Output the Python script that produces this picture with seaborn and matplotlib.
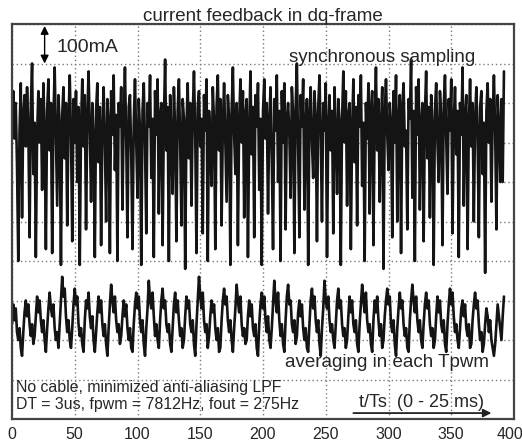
import numpy as np
import pandas as pd
import matplotlib
matplotlib.use("Agg")
import matplotlib.pyplot as plt
import matplotlib.transforms as mtransforms
import seaborn as sns

# synchronous sampling (upper trace), in grid divisions
sync_vals = [
    7.6, 8.3, 7.1, 8.0, 6.4, 4.0, 7.3, 8.5, 5.1, 7.7,
    8.2, 6.9, 8.4, 7.4, 4.6, 7.9, 9.0, 6.2, 7.5, 4.1,
    7.2, 8.3, 7.0, 8.1, 5.8, 8.5, 7.3, 4.3, 7.8, 8.6,
    6.8, 8.0, 4.2, 7.6, 8.9, 7.1, 5.4, 8.2, 7.4, 3.9,
    7.7, 8.4, 6.6, 8.0, 4.9, 7.5, 8.7, 7.2, 4.5, 8.1,
    7.0, 8.3, 6.0, 7.9, 3.9, 7.4, 8.6, 6.9, 8.2, 4.8,
    7.6, 8.8, 7.3, 5.5, 8.0, 7.1, 4.1, 7.8, 8.5, 6.5,
    7.9, 4.4, 7.3, 8.4, 7.0, 5.0, 8.1, 7.5, 4.2, 8.3,
    7.2, 8.7, 6.3, 7.7, 4.0, 8.0, 7.4, 8.4, 5.3, 7.6,
    8.9, 7.1, 4.6, 7.9, 8.2, 6.7, 4.3, 7.5, 8.6, 7.0,
    5.6, 8.1, 7.3, 3.9, 7.8, 8.5, 6.9, 4.7, 8.0, 7.4,
    8.7, 6.1, 7.6, 4.1, 8.3, 7.2, 8.6, 5.2, 7.7, 8.0,
    4.4, 7.5, 9.1, 6.8, 7.9, 4.0, 8.2, 7.1, 5.7, 8.4,
    7.3, 4.5, 7.8, 8.6, 7.0, 4.9, 8.1, 7.6, 3.8, 7.4,
    8.5, 6.6, 8.0, 5.4, 7.7, 8.8, 7.2, 4.2, 7.9, 8.3,
    6.9, 7.6, 4.7, 8.2, 7.3, 8.6, 4.0, 7.8, 7.1, 5.9,
    8.4, 7.5, 4.3, 7.9, 8.7, 6.8, 8.1, 4.9, 7.4, 8.5,
    7.0, 5.5, 8.2, 7.6, 3.9, 7.8, 8.9, 7.2, 6.2, 8.0,
    4.4, 7.5, 8.6, 7.0, 8.3, 5.1, 7.7, 8.1, 4.1, 7.3,
    8.8, 6.7, 7.9, 4.6, 8.2, 7.4, 8.5, 5.8, 7.6, 3.9,
    7.8, 8.6, 7.1, 8.0, 5.2, 7.5, 8.4, 6.6, 4.3, 8.1,
    7.3, 8.7, 6.0, 7.8, 4.0, 8.3, 7.0, 8.5, 4.8, 7.6,
    8.0, 7.2, 5.6, 8.4, 7.7, 4.2, 7.9, 9.0, 6.9, 4.6,
    8.2, 7.4, 8.6, 5.3, 7.5, 8.1, 3.9, 7.7, 8.4, 7.0,
    6.1, 8.3, 7.6, 4.5, 7.9, 8.7, 7.1, 5.0, 8.0, 7.3,
    8.5, 4.1, 7.4, 8.2, 6.8, 7.8, 4.7, 8.4, 7.2, 5.7,
    8.1, 7.5, 3.9, 7.6, 8.8, 7.0, 8.3, 5.4, 7.7, 8.0,
    4.3, 7.3, 8.6, 6.5, 7.9, 4.9, 8.2, 7.4, 8.7, 5.9,
    7.5, 4.0, 8.0, 7.1, 8.5, 5.2, 7.8, 8.3, 4.4, 7.6,
    8.9, 6.8, 8.1, 5.5, 7.4, 8.4, 3.8, 7.7, 8.6, 7.2,
    6.3, 8.0, 7.5, 4.6, 8.3, 7.0, 8.7, 5.0, 7.6, 8.2,
    4.2, 7.9, 8.5, 6.9, 7.3, 4.8, 8.1, 7.6, 9.1, 5.6,
    7.8, 4.0, 8.4, 7.2, 8.6, 5.3, 7.5, 8.0, 4.5, 7.7,
    8.8, 6.6, 7.9, 5.1, 8.2, 7.4, 3.9, 7.8, 8.5, 7.0,
    6.0, 8.3, 7.6, 4.4, 7.9, 8.7, 7.1, 5.7, 8.1, 7.3,
    8.6, 4.7, 7.5, 8.4, 6.7, 7.8, 4.1, 8.0, 7.2, 8.9,
    5.4, 7.7, 8.2, 4.3, 7.4, 8.6, 6.9, 8.0, 5.0, 7.6,
    8.4, 7.1, 4.6, 7.9, 8.3, 6.2, 7.5, 3.7, 7.8, 8.5,
    7.0, 8.1, 5.5, 7.6, 8.7, 7.3, 4.8, 8.2, 7.4, 6.0,
    8.1, 6.0, 8.8,
]

# averaging in each Tpwm (lower trace), in grid divisions
avg_vals = [
    2.4, 2.9, 2.5, 2.8, 2.2, 2.0, 2.3, 1.8, 1.6, 2.2,
    2.7, 3.0, 2.6, 2.9, 2.4, 2.1, 2.4, 1.9, 2.1, 2.6,
    3.1, 2.7, 3.0, 2.5, 2.2, 2.5, 2.0, 1.7, 2.3, 2.8,
    3.2, 2.8, 2.6, 2.9, 2.3, 2.0, 2.2, 1.8, 2.4, 3.0,
    3.6, 3.1, 3.3, 2.6, 2.2, 2.5, 2.0, 1.8, 2.3, 2.9,
    3.3, 2.9, 3.1, 2.4, 2.1, 2.3, 1.9, 1.7, 2.5, 3.0,
    2.8, 3.2, 2.6, 2.3, 2.6, 2.0, 1.7, 2.2, 2.7, 3.1,
    2.7, 3.0, 2.4, 2.1, 2.4, 1.9, 1.6, 2.3, 2.9, 3.4,
    3.0, 2.7, 3.1, 2.5, 2.2, 2.4, 1.9, 2.1, 2.6, 3.0,
    2.6, 2.9, 2.3, 2.0, 2.3, 1.8, 1.7, 2.4, 2.9, 3.2,
    2.8, 3.1, 2.5, 2.2, 2.5, 1.9, 1.6, 2.3, 2.8, 3.5,
    3.0, 2.8, 3.2, 2.6, 2.1, 2.4, 2.0, 1.8, 2.5, 3.0,
    3.3, 2.8, 3.0, 2.4, 2.2, 2.4, 1.9, 1.7, 2.3, 2.9,
    3.2, 2.7, 3.0, 2.5, 2.1, 2.3, 1.8, 2.0, 2.6, 3.1,
    2.8, 3.0, 2.4, 2.2, 2.5, 1.9, 1.6, 2.4, 3.0, 3.6,
    3.1, 2.8, 3.2, 2.5, 2.2, 2.4, 1.8, 2.1, 2.6, 3.0,
    2.7, 2.9, 2.3, 2.0, 2.3, 1.7, 1.8, 2.5, 3.0, 3.3,
    2.9, 3.1, 2.5, 2.2, 2.5, 2.0, 1.7, 2.3, 2.8, 3.4,
    3.0, 2.7, 3.1, 2.4, 2.1, 2.3, 1.9, 2.0, 2.6, 3.0,
    2.6, 2.9, 2.3, 2.1, 2.4, 1.8, 1.6, 2.4, 2.9, 3.2,
    2.8, 3.1, 2.5, 2.2, 2.6, 2.0, 1.8, 2.3, 2.9, 3.5,
    3.0, 2.7, 3.2, 2.5, 2.1, 2.4, 1.9, 1.7, 2.5, 3.1,
    3.4, 2.9, 3.0, 2.4, 2.2, 2.5, 1.9, 2.1, 2.7, 3.0,
    2.6, 2.9, 2.3, 2.0, 2.3, 1.8, 1.7, 2.4, 3.0, 3.3,
    2.8, 3.1, 2.5, 2.2, 2.5, 1.9, 1.6, 2.3, 2.8, 3.5,
    3.0, 2.8, 3.1, 2.5, 2.2, 2.4, 2.0, 1.8, 2.4, 3.0,
    3.3, 2.8, 3.0, 2.4, 2.1, 2.3, 1.8, 2.0, 2.6, 3.1,
    2.7, 3.0, 2.4, 2.2, 2.5, 1.9, 1.7, 2.4, 2.9, 3.4,
    3.0, 2.7, 3.2, 2.5, 2.2, 2.4, 1.9, 1.7, 2.5, 3.0,
    2.7, 3.1, 2.5, 2.1, 2.4, 1.8, 2.0, 2.6, 3.0, 3.3,
    2.9, 3.1, 2.4, 2.2, 2.5, 1.9, 1.6, 2.3, 2.8, 3.2,
    2.8, 3.0, 2.4, 2.1, 2.3, 1.8, 1.7, 2.5, 3.0, 3.4,
    3.0, 2.7, 3.1, 2.5, 2.2, 2.5, 2.0, 1.8, 2.4, 2.9,
    3.2, 2.8, 3.0, 2.4, 2.1, 2.3, 1.8, 2.0, 2.6, 3.1,
    2.7, 3.0, 2.4, 2.2, 2.5, 1.9, 1.7, 2.4, 2.9, 3.3,
    2.9, 3.2, 2.6, 2.2, 2.4, 2.0, 1.8, 2.3, 2.8, 3.0,
    2.6, 2.9, 2.3, 2.1, 2.4, 1.8, 1.9, 2.5, 2.9, 3.2,
    2.8, 3.0, 2.4, 2.0, 2.2, 1.7, 1.9, 2.4, 2.8, 2.6,
    2.2, 2.5, 2.0, 1.8, 1.6, 1.9, 2.4, 2.9, 2.6, 2.3,
    2.0, 2.6, 3.1,
]

x_ticks = [0, 50, 100, 150, 200, 250, 300, 350, 400]
title = "current feedback in dq-frame"

n = min(len(sync_vals), len(avg_vals))
df = pd.DataFrame({
    "t": np.arange(n),
    "sync": sync_vals[:n],
    "avg": avg_vals[:n],
})

sns.set_style("white")
plt.rcParams["font.family"] = ["Liberation Sans", "DejaVu Sans"]

fig = plt.figure(figsize=(5.22, 4.45), dpi=100)
ax = fig.add_axes([12 / 522, 1 - 419 / 445, 502 / 522, 395 / 445])

sns.lineplot(data=df, x="t", y="sync", ax=ax, color="#141414", lw=1.9)
sns.lineplot(data=df, x="t", y="avg", ax=ax, color="#141414", lw=1.9)

ax.set_xlim(0, 400)
ax.set_ylim(0, 10)
ax.set_xticks(x_ticks)
ax.set_xticklabels([str(v) for v in x_ticks], fontsize=11.5)
ax.set_yticks(range(0, 11))
ax.set_yticklabels([])
ax.tick_params(axis="both", length=0, pad=6)
ax.set_xlabel("")
ax.set_ylabel("")
ax.grid(True, linestyle=(0, (1, 2)), color="#7a7a7a", lw=1.0)
ax.set_axisbelow(True)
for s in ax.spines.values():
    s.set_color("#444444")
    s.set_linewidth(1.6)

# keep the "400" label inside the figure
last = ax.get_xticklabels()[-1]
last.set_transform(last.get_transform() +
                   mtransforms.ScaledTranslation(-4 / 100, 0, fig.dpi_scale_trans))

ax.set_title(title, fontsize=13.5, pad=2)

# 100mA scale arrow
ax.annotate("", xy=(26, 9.95), xytext=(26, 9.0),
            arrowprops=dict(arrowstyle="<|-|>", color="black", lw=1.0,
                            mutation_scale=12, shrinkA=0, shrinkB=0))
ax.text(35.5, 9.4, "100mA", fontsize=14, va="center", ha="left")

ax.text(295, 9.15, "synchronous sampling", fontsize=13.5, ha="center", va="center")
ax.text(299, 1.44, "averaging in each Tpwm", fontsize=13.5, ha="center", va="center")
ax.text(3.5, 0.80, "No cable, minimized anti-aliasing LPF", fontsize=11.4,
        ha="left", va="center")
ax.text(3.5, 0.36, "DT = 3us, fpwm = 7812Hz, fout = 275Hz", fontsize=11.4,
        ha="left", va="center")
ax.text(326, 0.43, "t/Ts  (0 - 25 ms)", fontsize=13, ha="center", va="center")
ax.annotate("", xy=(382, 0.15), xytext=(272, 0.15),
            arrowprops=dict(arrowstyle="-|>", color="#222222", lw=1.3,
                            mutation_scale=12, shrinkA=0, shrinkB=0))

fig.savefig("out.png", dpi=100)
